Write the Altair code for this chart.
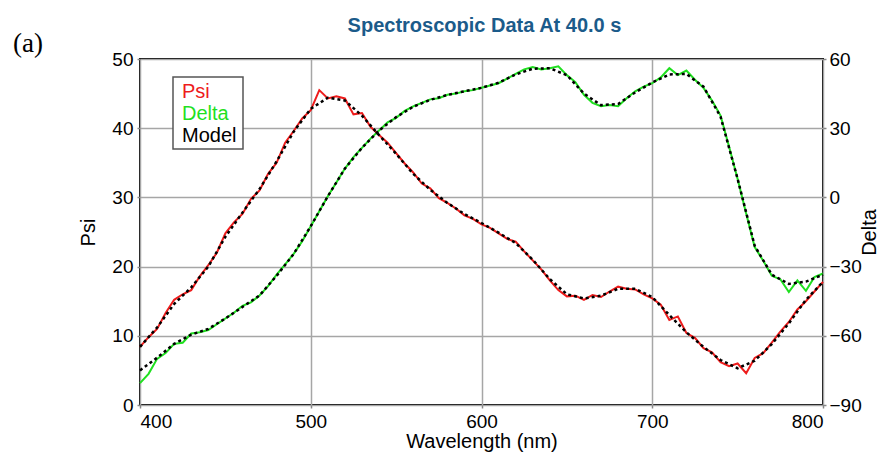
import altair as alt
import pandas as pd

# ---- measured spectra (5 nm steps) ----
wl = list(range(400, 805, 5))
psi_meas = [
    8.4, 9.8, 11.0, 13.3, 15.2, 16.0, 16.6, 18.6, 20.2, 22.0,
    24.8, 26.4, 27.6, 29.8, 31.0, 33.4, 35.0, 37.9, 39.6, 41.4,
    42.6, 45.5, 44.3, 44.6, 44.3, 42.0, 42.2, 40.2, 39.0, 37.9,
    36.4, 34.9, 33.6, 32.0, 31.3, 29.9, 29.2, 28.4, 27.4, 26.9,
    26.1, 25.6, 24.8, 24.0, 23.6, 22.2, 20.9, 19.6, 18.0, 16.6,
    15.7, 15.8, 15.2, 15.9, 15.6, 16.4, 17.1, 16.8, 16.7, 16.0,
    15.4, 14.5, 12.3, 12.8, 10.4, 9.7, 8.2, 7.6, 6.2, 5.6,
    6.0, 4.6, 6.8, 7.5, 9.0, 10.6, 12.0, 13.8, 15.0, 16.4,
    17.8,
]
delta_meas = [
    -80.5, -76.5, -70.0, -67.5, -63.5, -63.0, -59.0, -58.5, -57.5, -55.0,
    -52.5, -50.0, -47.0, -45.5, -42.5, -38.5, -33.5, -29.0, -24.5, -19.0,
    -12.5, -6.0, 0.5, 6.5, 12.5, 17.5, 21.5, 25.5, 29.0, 32.5,
    34.5, 37.5, 39.5, 41.0, 42.5, 43.0, 44.5, 45.0, 46.0, 46.5,
    47.5, 48.5, 49.5, 51.5, 53.5, 55.5, 56.5, 55.5, 56.0, 56.8,
    53.0, 50.0, 44.5, 41.0, 39.5, 40.0, 39.5, 43.0, 46.0, 48.0,
    49.5, 52.0, 56.0, 53.0, 55.0, 51.0, 47.5, 42.0, 35.5, 22.0,
    8.0, -7.0, -21.5, -27.5, -34.0, -35.5, -41.0, -36.0, -40.5, -34.5,
    -33.0,
]

# ---- model fit (10 nm steps) ----
wl_model = list(range(400, 810, 10))
psi_model = [
    8.4, 11.2, 14.6, 17.0, 20.0, 24.3, 27.8, 31.2, 35.2, 39.5,
    42.8, 44.4, 44.0, 41.8, 39.0, 36.3, 33.4, 31.1, 29.2, 27.6,
    26.3, 24.9, 23.4, 21.0, 18.2, 16.0, 15.4, 15.8, 16.8, 16.8,
    15.6, 13.0, 10.5, 8.4, 6.5, 5.3, 6.4, 8.8, 11.8, 15.2,
    17.8,
]
delta_model = [
    -75.0, -69.5, -63.5, -59.5, -57.0, -52.5, -47.5, -42.5, -34.0, -24.5,
    -12.5, 0.5, 12.5, 21.5, 29.0, 34.8, 39.3, 42.3, 44.4, 46.0,
    47.5, 49.7, 53.3, 55.8, 56.0, 53.0, 45.0, 40.0, 40.5, 45.5,
    49.8, 53.3, 53.5, 48.0, 35.0, 8.0, -21.0, -33.5, -37.5, -36.5,
    -33.5,
]

legend_labels = ["Psi", "Delta", "Model"]
legend_colors = ["#ee1c1c", "#1fe01f", "#000000"]
x_ticks = [400, 500, 600, 700, 800]
psi_ticks = [0, 10, 20, 30, 40, 50]
delta_ticks = [-90, -60, -30, 0, 30, 60]

meas = pd.DataFrame({"wl": wl, "psi": psi_meas, "delta": delta_meas})
model = pd.DataFrame({"wl": wl_model, "psi": psi_model, "delta": delta_model})

FONT = "Liberation Sans"
RED, GREEN, BLACK = legend_colors

x_enc = alt.X(
    "wl:Q",
    scale=alt.Scale(domain=[400, 800], nice=False),
    axis=alt.Axis(title="Wavelength (nm)", values=x_ticks, grid=True,
                  labelPadding=4, titlePadding=0),
)
psi_axis = alt.Axis(orient="left", title="Psi", values=psi_ticks, grid=True,
                    labelPadding=4, titlePadding=13)
delta_axis = alt.Axis(orient="right", title="Delta", values=delta_ticks, grid=False,
                      labelPadding=3, titlePadding=18, titleAngle=270)
psi_scale = alt.Scale(domain=[0, 50], nice=False)
delta_scale = alt.Scale(domain=[-90, 60], nice=False)

psi_meas_line = alt.Chart(meas).mark_line(color=RED, strokeWidth=2).encode(
    x=x_enc, y=alt.Y("psi:Q", scale=psi_scale, axis=psi_axis))
psi_model_line = alt.Chart(model).mark_line(color=BLACK, strokeWidth=2.5, strokeDash=[3, 3]).encode(
    x=x_enc, y=alt.Y("psi:Q", scale=psi_scale, axis=psi_axis))
delta_meas_line = alt.Chart(meas).mark_line(color=GREEN, strokeWidth=2).encode(
    x=x_enc, y=alt.Y("delta:Q", scale=delta_scale, axis=delta_axis))
delta_model_line = alt.Chart(model).mark_line(color=BLACK, strokeWidth=2.5, strokeDash=[3, 3]).encode(
    x=x_enc, y=alt.Y("delta:Q", scale=delta_scale, axis=delta_axis))

psi_layer = alt.layer(psi_meas_line, psi_model_line)
delta_layer = alt.layer(delta_meas_line, delta_model_line)

one = pd.DataFrame({"k": [0]})
legend_box = alt.Chart(one).mark_rect(fill="white", stroke="#555555", strokeWidth=1.5).encode(
    x=alt.value(33), x2=alt.value(103), y=alt.value(18), y2=alt.value(90))

legend_texts = []
for i, (lab, col) in enumerate(zip(legend_labels, legend_colors)):
    legend_texts.append(
        alt.Chart(pd.DataFrame({"t": [lab]})).mark_text(
            font=FONT, fontSize=20, color=col, align="left", baseline="alphabetic"
        ).encode(text="t:N", x=alt.value(42), y=alt.value(39 + 22 * i))
    )

panel_label = alt.Chart(pd.DataFrame({"t": ["(a)"]})).mark_text(
    font="Liberation Serif", fontSize=27, color="black", align="center", baseline="alphabetic"
).encode(text="t:N", x=alt.value(-112), y=alt.value(-7))

chart = alt.layer(
    psi_layer, delta_layer, legend_box, *legend_texts, panel_label
).resolve_scale(y="independent").properties(
    width=683,
    height=346,
    background="white",
    title=alt.TitleParams("Spectroscopic Data At 40.0 s", font=FONT, fontSize=20,
                          fontWeight="bold", color="#1b5b8a", anchor="middle",
                          frame="group", offset=6, dx=3, dy=12),
    padding={"left": 132, "top": 51, "right": 56, "bottom": 48},
    autosize=alt.AutoSizeParams(type="none"),
).configure_view(
    stroke="black", strokeWidth=2
).configure_axis(
    labelFont=FONT, titleFont=FONT, labelFontSize=19, titleFontSize=20,
    labelColor="black", titleColor="black", titleFontWeight="normal",
    domain=False, tickColor="#888888", tickSize=3, tickWidth=1.5,
    gridColor="#a6a6a6", gridWidth=1.5,
)

chart.save("out.html", embed_options={"renderer": "svg", "actions": False})
